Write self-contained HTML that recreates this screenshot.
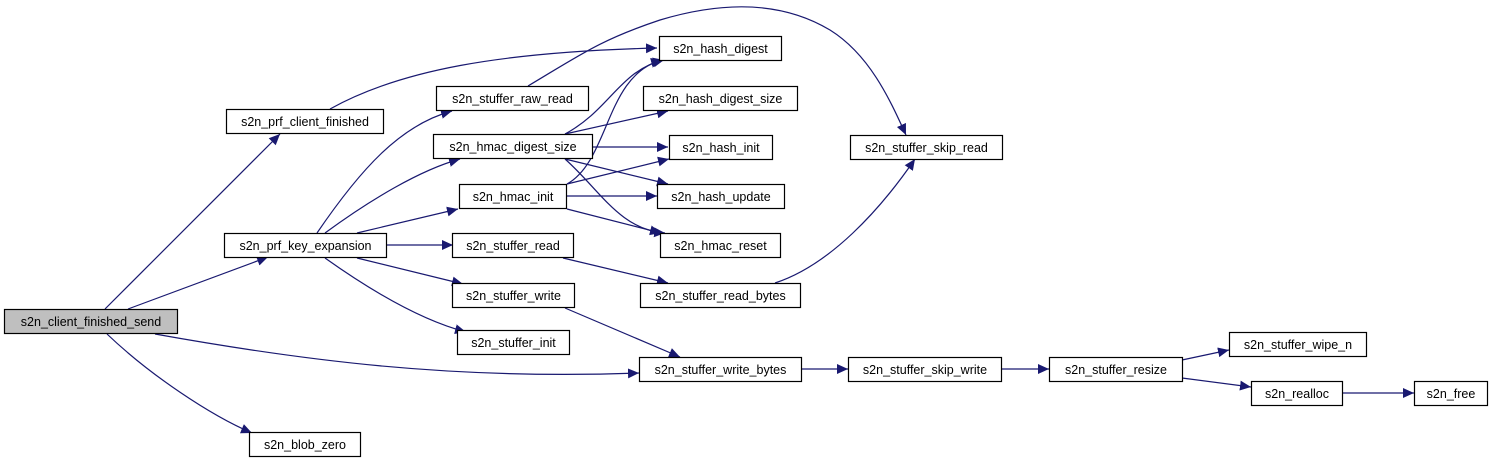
<!DOCTYPE html>
<html><head><meta charset="utf-8"><style>
html,body{margin:0;padding:0;background:#fff;width:1493px;height:464px;overflow:hidden}
text{font-family:"Liberation Sans",Arial,sans-serif;font-size:12.5px;fill:#000}
</style></head><body>
<svg width="1493" height="464" viewBox="0 0 1493 464" xmlns="http://www.w3.org/2000/svg">
<defs><marker id="a" viewBox="0 0 10 10" refX="10" refY="5" markerWidth="11" markerHeight="11" markerUnits="userSpaceOnUse" orient="auto"><path d="M0,0.5 L10,5 L0,9.5 z" fill="#191970"/></marker></defs>
<g fill="none" stroke="#191970" stroke-width="1.2" marker-end="url(#a)">
<path d="M105,309 L280,134"/>
<path d="M128,309 L268,257"/>
<path d="M107,334 C150,375 210,415 252,433"/>
<path d="M155,334 C300,360 450,380 639,373"/>
<path d="M330,109 C400,70 500,52 657,48"/>
<path d="M317,233 C360,170 400,125 452,111"/>
<path d="M325,233 C370,200 420,170 460,159"/>
<path d="M357,233 L458,209"/>
<path d="M385,245 L453,245"/>
<path d="M357,258 L463,284"/>
<path d="M325,258 C370,290 420,320 466,332"/>
<path d="M528,86 C580,55 600,40 660,20 C720,2 780,0 830,30 C870,55 890,100 906,135"/>
<path d="M565,134 C610,110 620,70 664,60"/>
<path d="M565,134 L668,111"/>
<path d="M593,147 L668,147"/>
<path d="M565,159 L668,184"/>
<path d="M565,159 C600,190 620,230 665,233"/>
<path d="M567,184 C610,160 605,75 662,60"/>
<path d="M567,184 L669,159"/>
<path d="M567,196 L657,196"/>
<path d="M567,209 L661,233"/>
<path d="M563,258 L668,283"/>
<path d="M565,308 L680,357"/>
<path d="M775,283 C830,265 880,210 915,159"/>
<path d="M801,369 L848,369"/>
<path d="M1001,369 L1049,369"/>
<path d="M1182,360 L1229,350"/>
<path d="M1182,378 L1251,387"/>
<path d="M1342,393 L1414,393"/>
</g>
<g stroke="#000" stroke-width="1.2" fill="#fff">
<rect x="4.5" y="309.5" width="173" height="24" fill="#bfbfbf"/>
<rect x="226.5" y="109.5" width="157" height="24"/>
<rect x="224.5" y="233.5" width="162" height="24"/>
<rect x="249.5" y="432.5" width="111" height="24"/>
<rect x="436.5" y="86.5" width="152" height="24"/>
<rect x="433.5" y="134.5" width="159" height="24"/>
<rect x="459.5" y="184.5" width="107" height="24"/>
<rect x="452.5" y="233.5" width="121" height="24"/>
<rect x="452.5" y="283.5" width="122" height="24"/>
<rect x="457.5" y="330.5" width="112" height="24"/>
<rect x="659.5" y="36.5" width="122" height="24"/>
<rect x="643.5" y="86.5" width="154" height="24"/>
<rect x="669.5" y="135.5" width="103" height="24"/>
<rect x="657.5" y="184.5" width="127" height="24"/>
<rect x="660.5" y="233.5" width="120" height="24"/>
<rect x="640.5" y="283.5" width="160" height="24"/>
<rect x="639.5" y="357.5" width="162" height="24"/>
<rect x="850.5" y="135.5" width="152" height="24"/>
<rect x="848.5" y="357.5" width="153" height="24"/>
<rect x="1049.5" y="357.5" width="133" height="24"/>
<rect x="1229.5" y="332.5" width="137" height="24"/>
<rect x="1251.5" y="381.5" width="91" height="24"/>
<rect x="1414.5" y="381.5" width="73" height="24"/>
</g>
<g text-anchor="middle">
<text x="91" y="326">s2n_client_finished_send</text>
<text x="305" y="126">s2n_prf_client_finished</text>
<text x="305.5" y="250">s2n_prf_key_expansion</text>
<text x="305" y="449">s2n_blob_zero</text>
<text x="512.5" y="103">s2n_stuffer_raw_read</text>
<text x="513" y="151">s2n_hmac_digest_size</text>
<text x="513" y="201">s2n_hmac_init</text>
<text x="513" y="250">s2n_stuffer_read</text>
<text x="513.5" y="300">s2n_stuffer_write</text>
<text x="513.5" y="347">s2n_stuffer_init</text>
<text x="720.5" y="53">s2n_hash_digest</text>
<text x="720.5" y="103">s2n_hash_digest_size</text>
<text x="721" y="152">s2n_hash_init</text>
<text x="721" y="201">s2n_hash_update</text>
<text x="720.5" y="250">s2n_hmac_reset</text>
<text x="720.5" y="300">s2n_stuffer_read_bytes</text>
<text x="720.5" y="374">s2n_stuffer_write_bytes</text>
<text x="926.5" y="152">s2n_stuffer_skip_read</text>
<text x="925" y="374">s2n_stuffer_skip_write</text>
<text x="1116" y="374">s2n_stuffer_resize</text>
<text x="1298" y="349">s2n_stuffer_wipe_n</text>
<text x="1297" y="398">s2n_realloc</text>
<text x="1451" y="398">s2n_free</text>
</g>
</svg>
</body></html>
